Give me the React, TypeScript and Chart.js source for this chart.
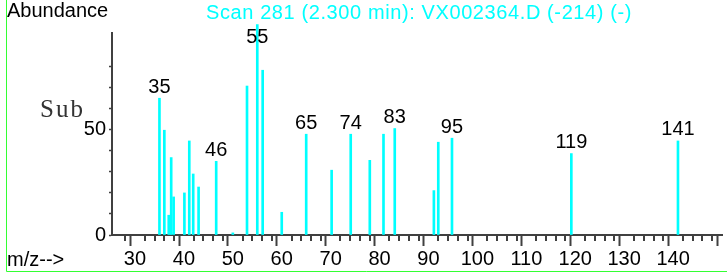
import React, { useEffect, useRef } from 'react';
import { Chart, registerables } from 'chart.js';

Chart.register(...registerables);

// m/z positions of the spectrum lines
const mzValues = [35, 36, 36.9, 37.4, 37.9, 40.1, 41.1, 41.9, 43, 46.6, 50, 52.9, 55, 56.1, 60, 65, 70.2, 74.1, 78, 80.8, 83.1, 91.1, 92, 94.8, 119.2, 141];
// relative abundance of each line
const abundance = [65.0, 49.8, 9.4, 36.8, 18.1, 20.0, 44.7, 29.0, 22.8, 35.0, 1.0, 70.8, 100, 78.3, 10.8, 47.9, 30.8, 47.9, 35.5, 47.9, 50.6, 21.1, 44.1, 46.0, 38.7, 44.7];
// peak annotations ('' = none)
const peakLabels = ['35', '', '', '', '', '', '', '', '', '46', '', '', '55', '', '', '65', '', '74', '', '', '83', '', '', '95', '119', '141'];
// axis tick labels
const xLabeledTicks = [30, 40, 50, 60, 70, 80, 90, 100, 110, 120, 130, 140];
const yLabeledTicks = [0, 50];

const titleText = 'Scan 281 (2.300 min): VX002364.D (-214) (-)';
const SANS = '"Liberation Sans", Arial, sans-serif';

const decorPlugin = {
  id: 'decor',
  afterDatasetsDraw(chart: any) {
    const ctx = chart.ctx;
    const meta = chart.getDatasetMeta(0);
    ctx.save();
    ctx.font = `20px ${SANS}`;
    ctx.fillStyle = '#000';
    ctx.textAlign = 'center';
    ctx.textBaseline = 'alphabetic';
    meta.data.forEach((el: any, i: number) => {
      const t = peakLabels[i];
      if (!t) return;
      const y = Math.max(el.y - 5.5, 43);
      ctx.fillText(t, el.x, y);
    });
    ctx.restore();
  },
  afterDraw(chart: any) {
    const ctx = chart.ctx;
    const xs = chart.scales.x;
    ctx.save();
    // minor ticks
    ctx.strokeStyle = '#404040';
    ctx.lineWidth = 2;
    xs.ticks.forEach((t: any) => {
      if (t.value % 10 === 0) return;
      const px = Math.round(xs.getPixelForValue(t.value));
      ctx.beginPath();
      ctx.moveTo(px, xs.top);
      ctx.lineTo(px, xs.top + 6);
      ctx.stroke();
    });
    // texts
    ctx.textBaseline = 'alphabetic';
    ctx.textAlign = 'left';
    ctx.fillStyle = '#000';
    ctx.font = `20px ${SANS}`;
    ctx.fillText('Abundance', 7, 17);
    ctx.fillText('m/z-->', 7, 266);
    ctx.fillStyle = '#00ffff';
    (ctx as any).letterSpacing = '0.6px';
    ctx.fillText(titleText, 206, 19);
    (ctx as any).letterSpacing = '2px';
    ctx.fillStyle = '#333';
    ctx.font = '25px "Liberation Serif", "DejaVu Serif", serif';
    ctx.fillText('Sub', 40, 117);
    (ctx as any).letterSpacing = '0px';
    // green frame
    ctx.strokeStyle = '#33ff33';
    ctx.lineWidth = 1;
    ctx.beginPath();
    ctx.moveTo(6.5, 0);
    ctx.lineTo(6.5, 271.5);
    ctx.lineTo(727, 271.5);
    ctx.stroke();
    ctx.restore();
  },
};

export default function App() {
  const ref = useRef<HTMLCanvasElement | null>(null);
  useEffect(() => {
    if (!ref.current) return;
    const chart = new Chart(ref.current, {
      type: 'bar',
      data: {
        datasets: [
          {
            data: mzValues.map((m, i) => ({ x: m, y: abundance[i] })),
            backgroundColor: '#00ffff',
            borderWidth: 0,
            barThickness: 2,
            clip: false as any,
          },
        ],
      },
      options: {
        animation: false,
        responsive: false,
        devicePixelRatio: 1,
        layout: { padding: { top: 33, right: 5, left: 0, bottom: 0 } },
        plugins: { legend: { display: false }, tooltip: { enabled: false }, title: { display: false } },
        scales: {
          x: {
            type: 'linear',
            min: 25.3,
            max: 150,
            offset: false,
            afterBuildTicks: (scale: any) => {
              scale.ticks = scale.ticks.filter((t: any) => Math.abs(t.value - Math.round(t.value)) < 1e-6 && Math.round(t.value) % 2 === 0);
            },
            afterFit: (scale: any) => {
              scale.height = 38;
            },
            ticks: {
              stepSize: 2,
              autoSkip: false,
              maxRotation: 0,
              padding: 1,
              color: '#000',
              font: { size: 20, family: SANS },
              callback: (v: any) => (xLabeledTicks.includes(Number(v)) ? String(v) : ''),
            },
            grid: {
              display: true,
              drawOnChartArea: false,
              drawTicks: true,
              tickLength: 11,
              tickWidth: 2,
              tickColor: (c: any) => (c.tick && c.tick.value % 10 === 0 ? '#404040' : 'rgba(0,0,0,0)'),
            },
            border: { display: true, color: '#404040', width: 2 },
          },
          y: {
            type: 'linear',
            min: 0,
            max: 96,
            afterBuildTicks: (scale: any) => {
              scale.ticks = scale.ticks.filter((t: any) => t.value % 10 === 0);
            },
            afterFit: (scale: any) => {
              scale.width = 112;
            },
            ticks: {
              stepSize: 10,
              autoSkip: false,
              padding: 3,
              color: '#000',
              font: { size: 20, family: SANS },
              callback: (v: any) => (yLabeledTicks.includes(Number(v)) ? String(v) : ''),
            },
            grid: {
              display: true,
              drawOnChartArea: false,
              drawTicks: true,
              tickLength: 3,
              tickWidth: 1.5,
              tickColor: '#404040',
            },
            border: { display: true, color: '#404040', width: 2 },
          },
        },
      },
      plugins: [decorPlugin],
    } as any);
    return () => chart.destroy();
  }, []);
  return (
    <div style={{ position: 'fixed', left: 0, top: 0, width: 727, height: 273, background: '#fff' }}>
      <canvas ref={ref} width={727} height={273} style={{ width: 727, height: 273, display: 'block' }} />
    </div>
  );
}
